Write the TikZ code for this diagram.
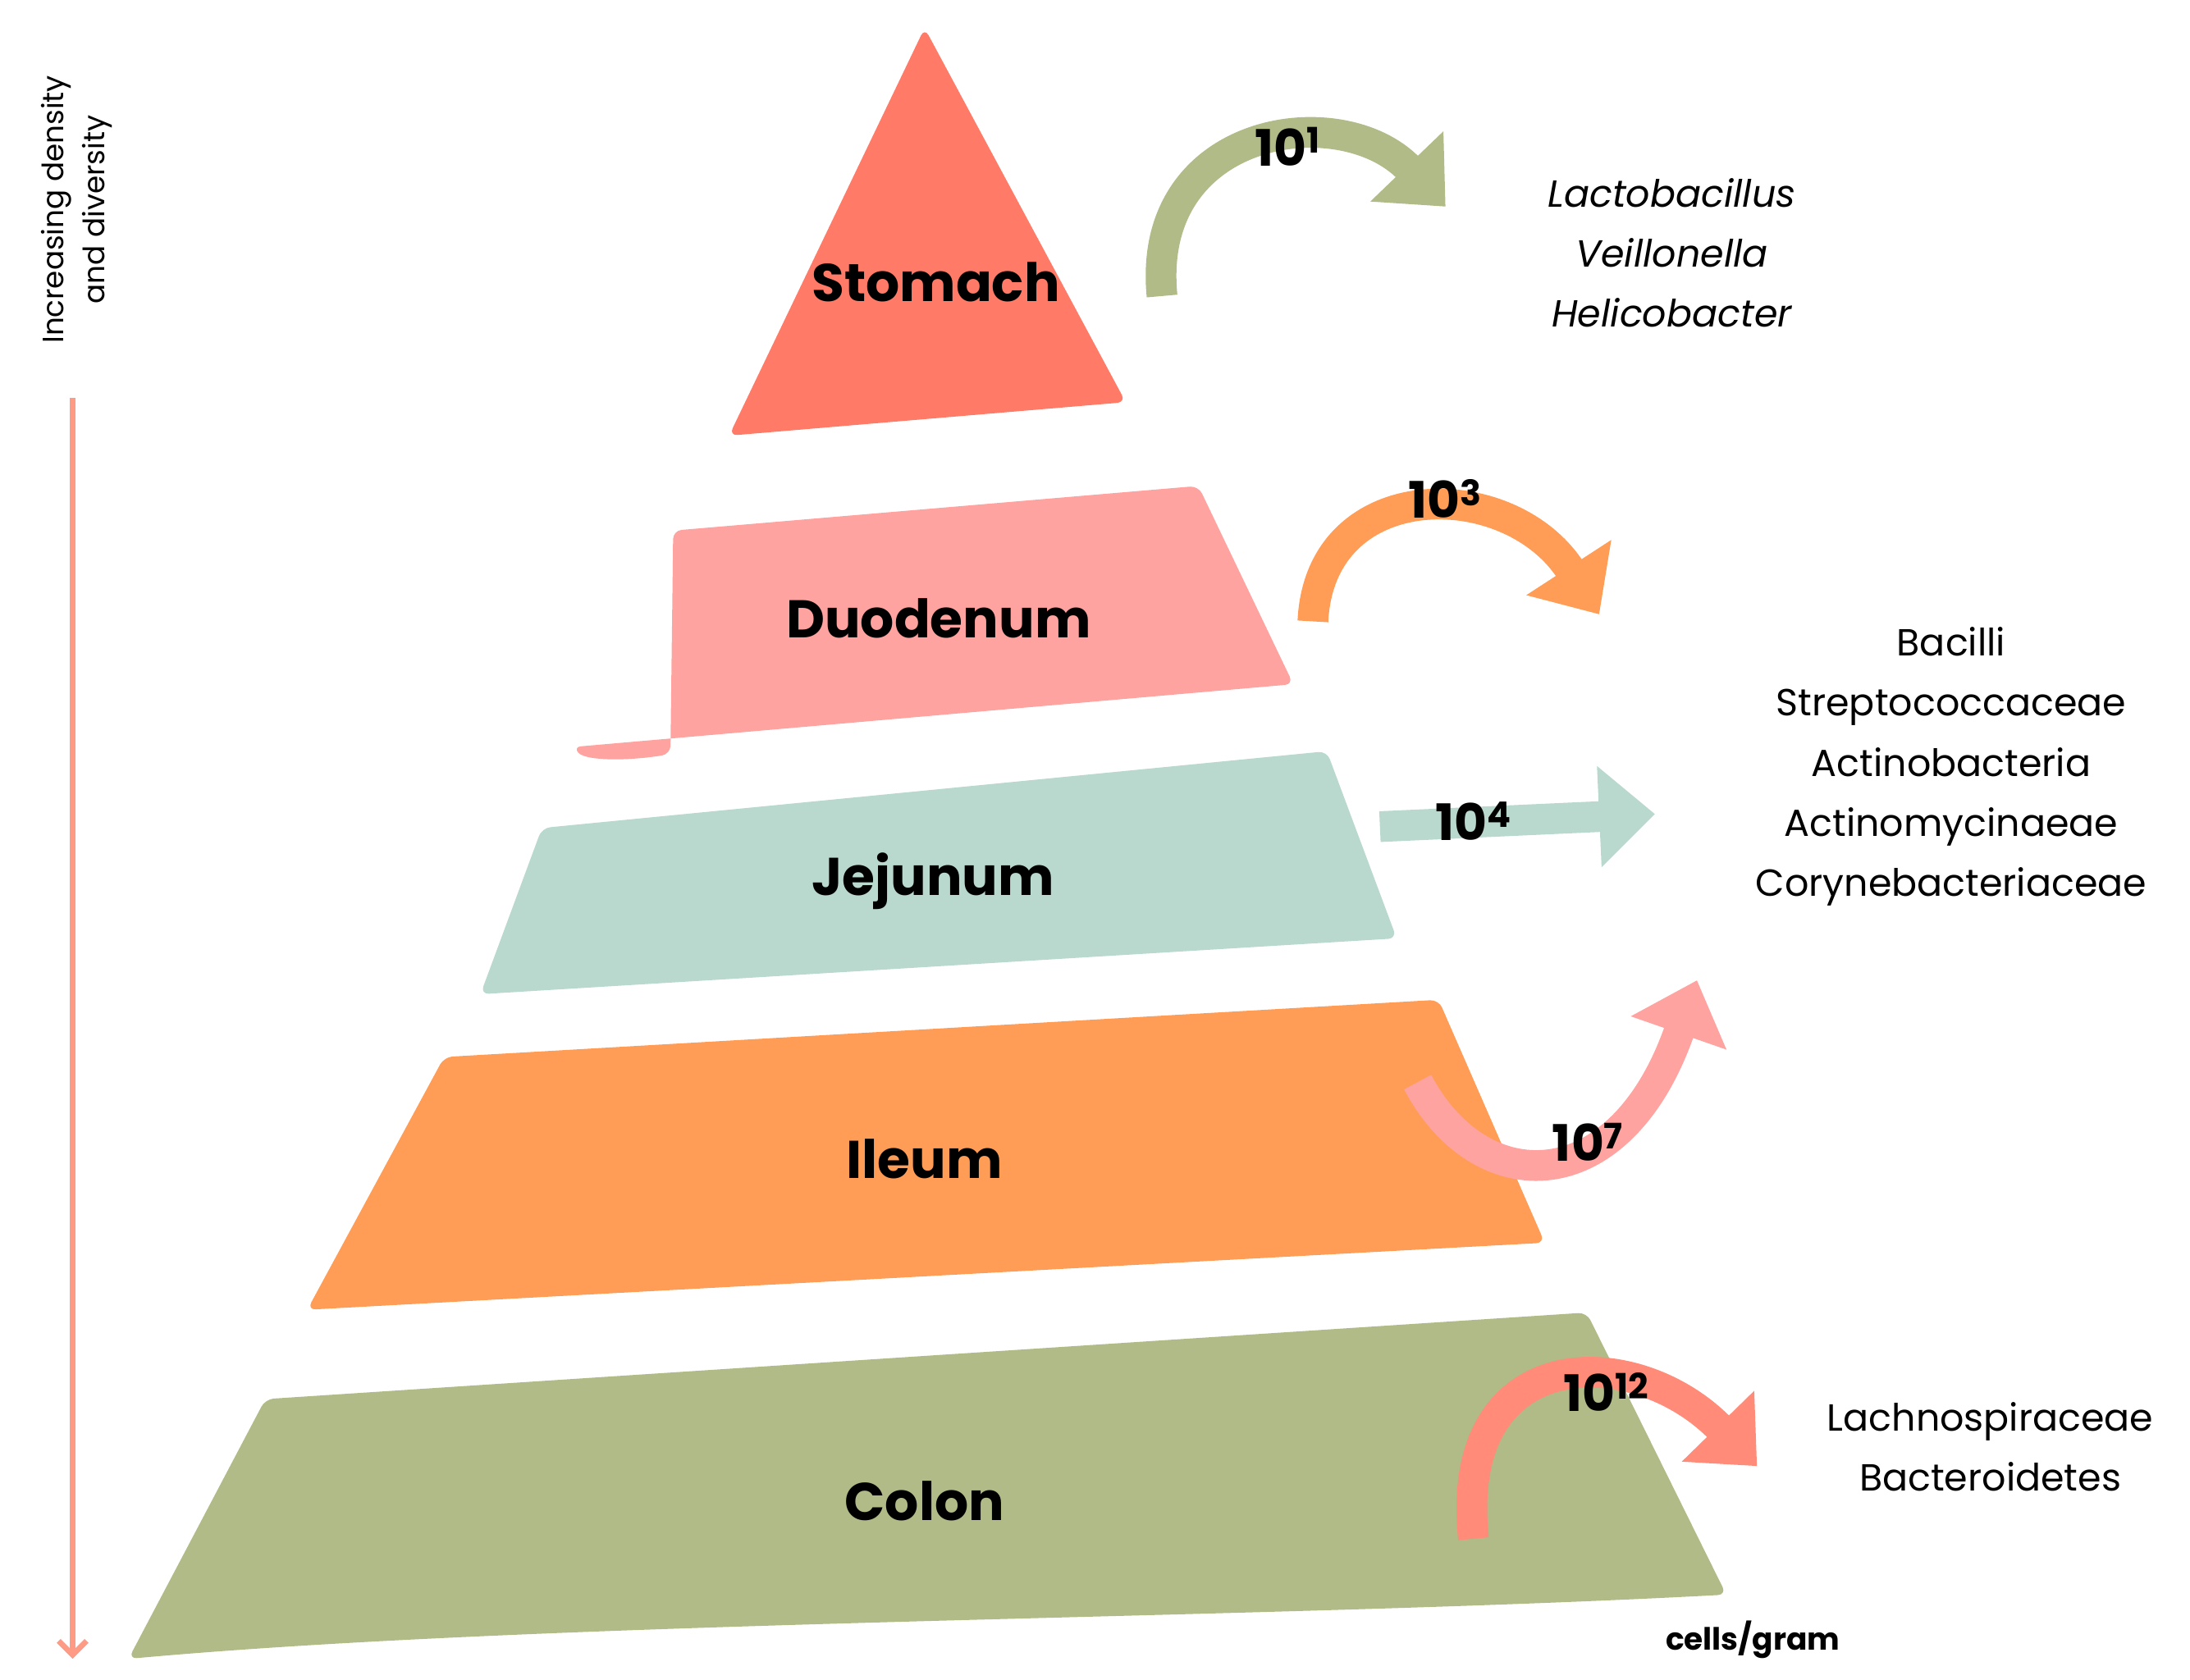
\documentclass[tikz,border=0pt]{standalone}
\usepackage{fontspec}
\setmainfont{Poppins}
\usetikzlibrary{arrows.meta}
\definecolor{cstom}{HTML}{FF7B67}
\definecolor{cduo}{HTML}{FFA3A0}
\definecolor{cjej}{HTML}{B9D8CE}
\definecolor{cile}{HTML}{FF9D57}
\definecolor{ccol}{HTML}{B0BB87}
\definecolor{carr}{HTML}{FF9A85}
\tikzset{
 lay/.style={line join=round,rounded corners=6pt},
 lab/.style={font=\fontsize{38}{40}\selectfont\bfseries},
 num/.style={font=\fontsize{36}{38}\selectfont\bfseries},
 lst/.style={font=\fontsize{27}{43}\selectfont,align=center},
 carrow/.style={line width=22pt,-{Triangle[length=40pt,width=70pt]}},
}
\begin{document}
\begin{tikzpicture}[x=1pt,y=-1pt]
\useasboundingbox (0,0) rectangle (1568,1203);
% layers
\fill[cstom,lay] (662,20) -- (806,288) -- (522,312) -- cycle;
\fill[cduo,lay] (482,380) -- (858,348) -- (926,490) -- (410,535) .. controls (420,545) and (450,545) .. (480,540) -- cycle;
\fill[cjej,lay] (388,593) -- (950,538) -- (1000,672) -- (344,712) -- cycle;
\fill[cile,lay] (318,757) -- (1030,716) -- (1106,890) -- (220,938) -- cycle;
\fill[ccol,lay] (190,1002) -- (1136,940) -- (1236,1142) .. controls (900,1160) and (400,1160) .. (92,1188) -- cycle;
\node[lab] (stom) at (670,202) {Stomach};
\node[lab] (duo) at (672,443) {Duodenum};
\node[lab] (jej) at (668,631) {Jejunum};
\node[lab] (ile) at (662,830) {Ileum};
\node[lab] (col) at (662,1075) {Colon};
% arrows
\coordinate (s1) at (832,212); \coordinate (s2) at (1035,148);
\draw[carrow,ccol] (s1) .. controls (820,90) and (960,70) .. (s2);
\coordinate (d1) at (940,445); \coordinate (d2) at (1145,440);
\draw[carrow,cile] (d1) .. controls (945,340) and (1080,340) .. (d2);
\coordinate (j1) at (988,592); \coordinate (j2) at (1185,583);
\draw[carrow,cjej] (j1) -- (j2);
\coordinate (i1) at (1015,775); \coordinate (i2) at (1215,702);
\draw[carrow,cduo] (i1) .. controls (1060,860) and (1160,860) .. (i2);
\coordinate (c1) at (1055,1102); \coordinate (c2) at (1258,1050);
\draw[carrow,carr!90!red] (c1) .. controls (1040,960) and (1170,960) .. (c2);
\node[num] (n1) at (922,105) {10\textsuperscript{1}};
\node[num] (n3) at (1035,357) {10\textsuperscript{3}};
\node[num] (n4) at (1055,588) {10\textsuperscript{4}};
\node[num] (n7) at (1137,818) {10\textsuperscript{7}};
\node[num] (n12) at (1150,997) {10\textsuperscript{12}};
% lists
\node[lst,font=\fontsize{27}{43}\selectfont\itshape] (l1) at (1197,181) {Lactobacillus\\Veillonella\\Helicobacter};
\node[lst] (l2) at (1397,549) {Bacilli\\Streptococcaceae\\Actinobacteria\\Actinomycinaeae\\Corynebacteriaceae};
\node[lst] (l3) at (1425,1036) {Lachnospiraceae\\Bacteroidetes};
\node[font=\fontsize{22}{24}\selectfont\bfseries] (cg) at (1255,1174) {cells/gram};
% left axis
\node[rotate=90,align=center,font=\fontsize{21}{29}\selectfont] (ax) at (55,150) {Increasing density\\and diversity};
\coordinate (a1) at (52,285); \coordinate (a2) at (52,1188);
\draw[carr,line width=4pt,-{Straight Barb[length=10pt,width=20pt]}] (a1) -- (a2);
\end{tikzpicture}
\end{document}
